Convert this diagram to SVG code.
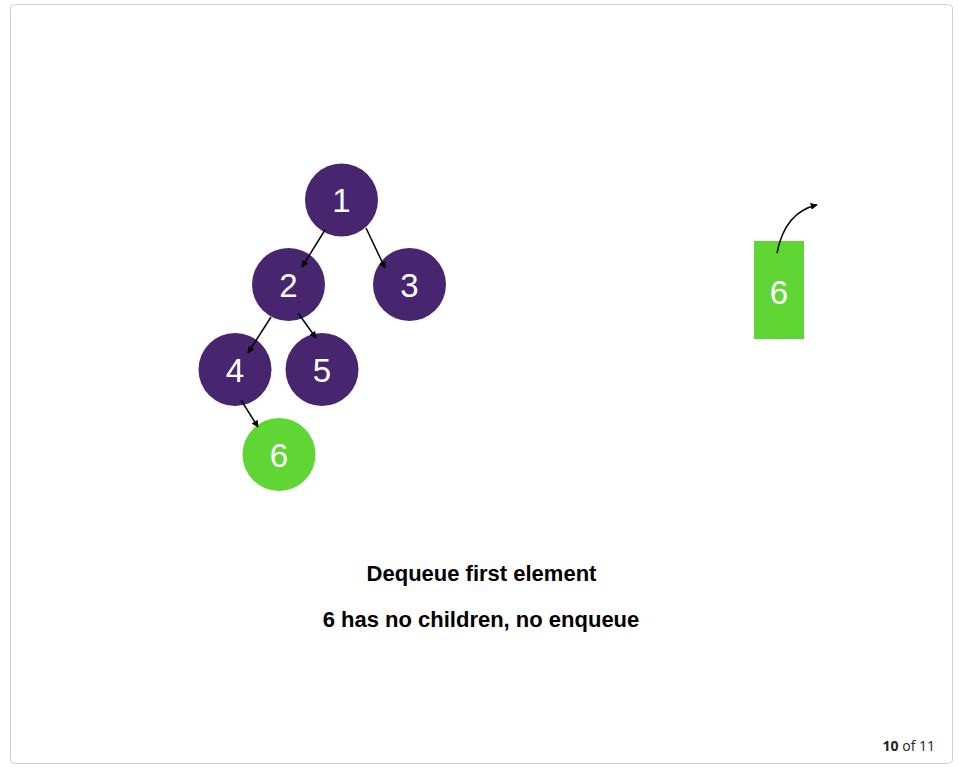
<svg xmlns="http://www.w3.org/2000/svg" width="959" height="767" viewBox="0 0 959 767">
<defs>
<style>
.node{fill:#47256f}
.cur{fill:#5fd634}
.lbl{font-family:"Liberation Sans",Arial,sans-serif;font-size:33px;fill:#fff;text-anchor:middle}
.edge{stroke:#000;stroke-width:1.5;fill:none;marker-end:url(#ah)}
.cap{font-family:"Liberation Sans",Arial,sans-serif;font-weight:bold;font-size:22px;fill:#000;text-anchor:middle}
</style>
<marker id="ah" viewBox="0 0 10 10" refX="9" refY="5" markerWidth="7" markerHeight="7" orient="auto" markerUnits="userSpaceOnUse">
<path d="M0,0 L10,5 L0,10 z" fill="#000"/>
</marker>
</defs>
<rect x="0" y="0" width="959" height="767" fill="#fff"/>
<rect x="10.5" y="4.5" width="942" height="759" rx="4" fill="#fff" stroke="#cfcfcf"/>
<g id="n1"><circle class="node" cx="341.5" cy="200" r="36.5"/><text class="lbl" x="341.5" y="212">1</text></g>
<g id="n2"><circle class="node" cx="288.5" cy="284.5" r="36.5"/><text class="lbl" x="288.5" y="296.5">2</text></g>
<g id="n3"><circle class="node" cx="409.5" cy="284.5" r="36.5"/><text class="lbl" x="409.5" y="296.5">3</text></g>
<g id="n4"><circle class="node" cx="235" cy="369.5" r="36.5"/><text class="lbl" x="235" y="381.5">4</text></g>
<g id="n5"><circle class="node" cx="322" cy="369.5" r="36.5"/><text class="lbl" x="322" y="381.5">5</text></g>
<g id="n6"><circle class="cur" cx="279" cy="454.5" r="36.5"/><text class="lbl" x="279" y="466.5">6</text></g>
<g id="queue6"><rect class="cur" x="754" y="241" width="50" height="98"/><text class="lbl" x="779" y="304">6</text></g>
<g id="connectors">
<line class="edge" x1="325" y1="230" x2="302" y2="267"/>
<line class="edge" x1="366" y1="228" x2="385" y2="268"/>
<line class="edge" x1="271" y1="317" x2="248" y2="353"/>
<line class="edge" x1="298" y1="313" x2="316" y2="338"/>
<line class="edge" x1="241" y1="400" x2="258" y2="427"/>
<path class="edge" d="M777,253 Q785,212 817,205"/>
</g>
<text class="cap" x="481.5" y="581">Dequeue first element</text>
<text class="cap" x="481" y="627">6 has no children, no enqueue</text>
<text x="935" y="751" font-family="'Open Sans',sans-serif" font-size="14" fill="#222" text-anchor="end"><tspan font-weight="bold">10</tspan> of 11</text>
</svg>
